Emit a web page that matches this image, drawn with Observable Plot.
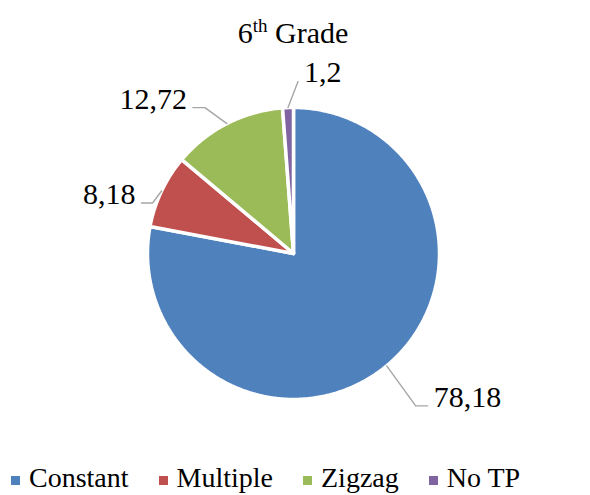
<!DOCTYPE html>
<html><head><meta charset="utf-8">
<script src="https://cdn.jsdelivr.net/npm/d3@7"></script>
<script src="https://cdn.jsdelivr.net/npm/@observablehq/plot@0.6"></script>
<style>
body{margin:0;background:#fff;}
#wrap{position:relative;width:590px;height:495px;font-family:'Liberation Serif','Times New Roman',Times,'DejaVu Serif',serif;color:#000;}
#chart{position:absolute;left:0;top:0;}
#chart text{font-family:'Liberation Serif','Times New Roman',Times,'DejaVu Serif',serif;}
#title{position:absolute;left:0;width:586px;text-align:center;top:18px;font-size:30px;line-height:30px;white-space:nowrap;}
#title sup{font-size:19px;line-height:0;vertical-align:11px;}
#legend{position:absolute;left:11px;top:464px;display:flex;font-size:28px;line-height:28px;white-space:nowrap;}
.item{display:flex;align-items:center;margin-right:30px;}
.sw{width:9px;height:9px;margin-right:9px;margin-top:5px;}
</style>
</head><body>
<div id="wrap">
  <div id="chart"></div>
  <div id="title">6<sup>th</sup> Grade</div>
  <div id="legend"></div>
</div>
<script>
const categories = ["Constant", "Multiple", "Zigzag", "No TP"];
const values = [78.18, 8.18, 12.72, 1.2];
const colors = ["#4F81BD", "#C0504D", "#9BBB59", "#8064A2"];
const labels = values.map(v => String(v).replace(".", ","));

// layout (not data): pie centre/radius and leader-line placement per slice
const cx = 293, cy = 253, R = 146;
const leaderLayout = [
  {dx: 29, dy: 40, tail: 12, side: "right"},
  {dx: -9, dy: 12, tail: 11, side: "left"},
  {dx: -22, dy: -16, tail: 12, side: "left"},
  {dx: 10, dy: -26, tail: 0, side: "right"}
];
const serif = "'Liberation Serif','Times New Roman',Times,'DejaVu Serif',serif";

const arcs = d3.pie().sort(null).value(d => d.value)(categories.map((c, i) => ({cat: c, value: values[i]})));

const slicePts = [];
arcs.forEach(a => {
  const cat = a.data.cat;
  const n = Math.max(4, Math.ceil((a.endAngle - a.startAngle) / 0.01));
  slicePts.push({cat, x: cx, y: cy});
  for (let k = 0; k <= n; k++) {
    const t = a.startAngle + (a.endAngle - a.startAngle) * k / n;
    slicePts.push({cat, x: cx + R * Math.sin(t), y: cy - R * Math.cos(t)});
  }
  slicePts.push({cat, x: cx, y: cy});
});

const leaderPts = [];
const labelData = [];
arcs.forEach((a, i) => {
  const cat = a.data.cat;
  const m = (a.startAngle + a.endAngle) / 2;
  const p0 = {x: cx + R * Math.sin(m), y: cy - R * Math.cos(m)};
  const L = leaderLayout[i];
  const e = {x: p0.x + L.dx, y: p0.y + L.dy};
  const s = L.side === "right" ? 1 : -1;
  const end = {x: e.x + s * L.tail, y: e.y};
  leaderPts.push({cat, ...p0}, {cat, ...e}, {cat, ...end});
  labelData.push({cat, text: labels[i], side: L.side, x: end.x + s * 6, y: end.y + (L.tail ? 1 : 0)});
});

const chart = Plot.plot({
  width: 590, height: 495,
  margin: 0,
  style: {fontFamily: serif},
  x: {domain: [0, 590], range: [0, 590], axis: null},
  y: {domain: [0, 495], range: [0, 495], axis: null},
  color: {domain: categories, range: colors},
  marks: [
    Plot.line(slicePts, {x: "x", y: "y", z: "cat", fill: "cat", stroke: "white", strokeWidth: 3.5, strokeLinejoin: "round"}),
    Plot.line(leaderPts, {x: "x", y: "y", z: "cat", stroke: "#a6a6a6", strokeWidth: 1.4}),
    Plot.text(labelData.filter(d => d.side === "right"), {x: "x", y: "y", text: "text", textAnchor: "start", lineAnchor: "bottom", fontSize: 30, fontFamily: serif, fill: "black"}),
    Plot.text(labelData.filter(d => d.side === "left"), {x: "x", y: "y", text: "text", textAnchor: "end", lineAnchor: "bottom", fontSize: 30, fontFamily: serif, fill: "black"})
  ]
});
document.getElementById("chart").appendChild(chart);

const leg = document.getElementById("legend");
categories.forEach((c, i) => {
  const it = document.createElement("div");
  it.className = "item";
  const sw = document.createElement("span");
  sw.className = "sw";
  sw.style.background = colors[i];
  const tx = document.createElement("span");
  tx.textContent = c;
  it.appendChild(sw); it.appendChild(tx);
  leg.appendChild(it);
});
</script>
</body></html>
